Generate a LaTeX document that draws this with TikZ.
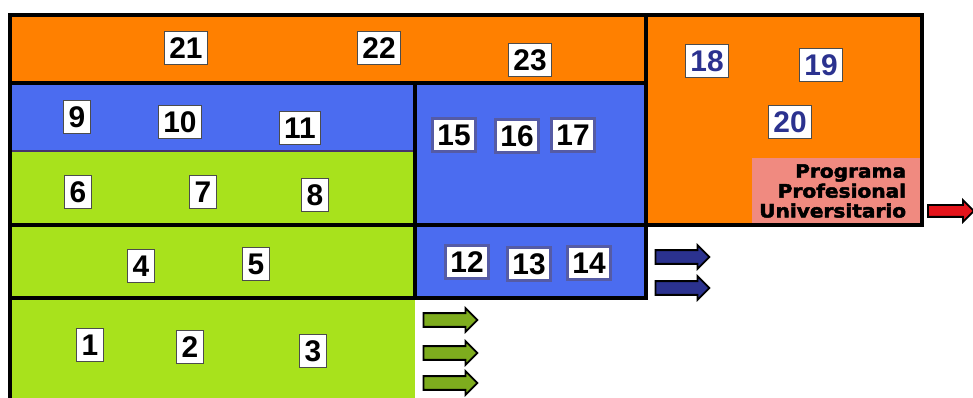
\documentclass[tikz,border=0pt]{standalone}
\usepackage{fontspec}
\setsansfont{Liberation Sans}
\newfontfamily\progfont{DejaVu Sans}[BoldFeatures={FakeBold=2.5, FakeStretch=1.09}]
\usetikzlibrary{shapes.arrows}

\begin{document}
\begin{tikzpicture}[x=0.02cm, y=-0.02cm, line width=2.2pt,
    numbox/.style={fill=white, draw=black!70, line width=0.6pt, inner xsep=2.8pt, inner ysep=0pt,
      minimum height=0.66cm, font=\fontsize{17}{17}\sffamily\bfseries},
    bluebox/.style={numbox, draw=cnavy!80, line width=1.2pt},
    blockarrow/.style={single arrow, draw=black, line width=1pt, inner xsep=0pt, inner ysep=0.12cm,
      minimum height=1.08cm, single arrow head extend=0.1cm, single arrow head indent=0pt}]
    \definecolor{corange}{RGB}{255,128,0}\definecolor{cblue}{RGB}{75,108,240}
    \definecolor{cgreen}{RGB}{168,226,28}\definecolor{cpink}{RGB}{240,138,128}
    \definecolor{cnavy}{RGB}{43,50,143}\definecolor{cdkgreen}{RGB}{126,172,30}
    \definecolor{cred}{RGB}{228,20,27}\definecolor{cedge}{RGB}{70,50,110}
    \useasboundingbox (0,0) rectangle (973,398);
    \fill[corange] (10,15) rectangle (646,83);
    \fill[corange] (646,15) rectangle (922,225);
    \fill[cpink] (752,158) rectangle (920,223);
    \fill[cblue] (10,83) rectangle (415,151);
    \fill[cblue] (415,83) rectangle (646,225);
    \fill[cgreen] (10,151) rectangle (415,225);
    \fill[cgreen] (10,225) rectangle (415,298);
    \fill[cblue] (415,225) rectangle (646,298);
    \fill[cgreen] (10,298) rectangle (415,398);
    \draw[cedge, line width=1pt] (10,151) -- (415,151);
    \draw[line cap=rect] (10,398) -- (10,15) -- (922,15) -- (922,225) -- (10,225);
    \draw[line cap=rect] (10,83) -- (646,83);
    \draw[line cap=rect] (646,15) -- (646,298) -- (10,298);
    \draw[line cap=rect] (415,83) -- (415,298);
    \node[numbox] (n21) at (186,48) {21};
    \node[numbox] (n22) at (379,48) {22};
    \node[numbox] (n23) at (530,60) {23};
    \node[numbox, text=cnavy] (n18) at (707,61) {18};
    \node[numbox, text=cnavy] (n19) at (821,65) {19};
    \node[numbox, text=cnavy] (n20) at (790,122) {20};
    \node[numbox] (n9) at (77,117) {9};
    \node[numbox] (n10) at (180,122) {10};
    \node[numbox] (n11) at (300,128) {11};
    \node[numbox] (n6) at (78,192) {6};
    \node[numbox] (n7) at (203,192) {7};
    \node[numbox] (n8) at (315,195) {8};
    \node[bluebox] (n15) at (454,135) {15};
    \node[bluebox] (n16) at (517,136) {16};
    \node[bluebox] (n17) at (573,135) {17};
    \node[numbox] (n4) at (141,266) {4};
    \node[numbox] (n5) at (256,264) {5};
    \node[bluebox] (n12) at (467,262) {12};
    \node[bluebox] (n13) at (529,264) {13};
    \node[bluebox] (n14) at (589,263) {14};
    \node[numbox] (n1) at (90,345) {1};
    \node[numbox] (n2) at (190,347) {2};
    \node[numbox] (n3) at (313,351) {3};
    \node[anchor=east, align=right, inner sep=0pt, font=\fontsize{10.5}{11.3}\progfont\bfseries] (prog) at (908,191)
      {Programa\\Profesional\\Universitario};
    \node[blockarrow, fill=cred, inner ysep=0.1cm, minimum height=0.92cm] (ared) at (948,211) {};
    \node[blockarrow, fill=cnavy] (ab1) at (679,257) {};
    \node[blockarrow, fill=cnavy] (ab2) at (679,288) {};
    \node[blockarrow, fill=cdkgreen] (ag1) at (447,320) {};
    \node[blockarrow, fill=cdkgreen] (ag2) at (447,353) {};
    \node[blockarrow, fill=cdkgreen] (ag3) at (447,383) {};
  \end{tikzpicture}
\end{document}
